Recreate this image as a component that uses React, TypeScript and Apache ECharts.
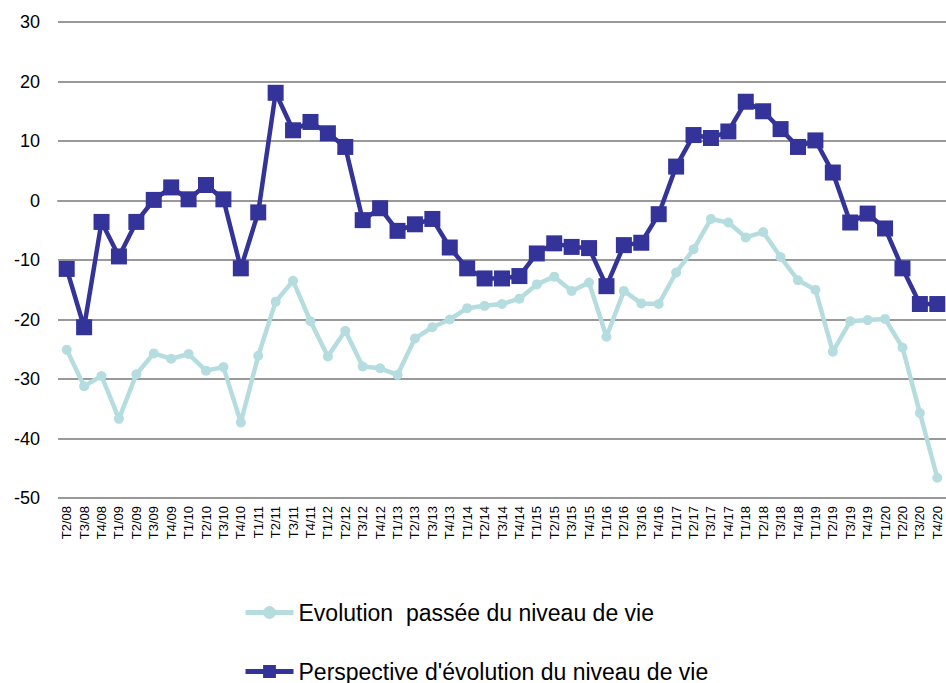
import React, { useEffect, useRef } from "react";
import * as echarts from "echarts";

const categories = [
  "T2/08", "T3/08", "T4/08",
  "T1/09", "T2/09", "T3/09", "T4/09",
  "T1/10", "T2/10", "T3/10", "T4/10",
  "T1/11", "T2/11", "T3/11", "T4/11",
  "T1/12", "T2/12", "T3/12", "T4/12",
  "T1/13", "T2/13", "T3/13", "T4/13",
  "T1/14", "T2/14", "T3/14", "T4/14",
  "T1/15", "T2/15", "T3/15", "T4/15",
  "T1/16", "T2/16", "T3/16", "T4/16",
  "T1/17", "T2/17", "T3/17", "T4/17",
  "T1/18", "T2/18", "T3/18", "T4/18",
  "T1/19", "T2/19", "T3/19", "T4/19",
  "T1/20", "T2/20", "T3/20", "T4/20",
];

const evolutionPassee = [
  -25.1, -31.2, -29.5,
  -36.7, -29.2, -25.7, -26.6,
  -25.8, -28.6, -28.0, -37.3,
  -26.1, -17.0, -13.5, -20.3,
  -26.2, -21.9, -27.9, -28.2,
  -29.3, -23.2, -21.3, -20.0,
  -18.1, -17.7, -17.4, -16.5,
  -14.1, -12.8, -15.2, -13.8,
  -22.9, -15.2, -17.3, -17.4,
  -12.1, -8.2, -3.1, -3.7,
  -6.2, -5.3, -9.5, -13.4,
  -15.0, -25.4, -20.3, -20.1,
  -19.9, -24.7, -35.7, -46.6,
];

const perspective = [
  -11.5, -21.3, -3.6,
  -9.4, -3.6, 0.1, 2.2,
  0.2, 2.6, 0.2, -11.4,
  -2.0, 18.1, 11.8, 13.2,
  11.3, 9.0, -3.3, -1.3,
  -5.1, -4.0, -3.1, -7.9,
  -11.4, -13.1, -13.1, -12.7,
  -8.9, -7.2, -7.8, -8.0,
  -14.4, -7.5, -7.1, -2.3,
  5.7, 11.0, 10.5, 11.6,
  16.6, 15.0, 12.0, 9.0,
  10.1, 4.7, -3.7, -2.2,
  -4.7, -11.4, -17.4, -17.4,
];

const seriesNames = [
  "Evolution  passée du niveau de vie",
  "Perspective d'évolution du niveau de vie",
];

const FONT = "'Liberation Sans', Arial, sans-serif";

const legendBase = {
  orient: "horizontal",
  left: 243,
  padding: 0,
  itemWidth: 48,
  itemHeight: 16,
  lineStyle: { width: 5 },
  textStyle: { fontSize: 23, color: "#000", fontFamily: FONT },
};

export default function App() {
  const ref = useRef<HTMLDivElement>(null);
  useEffect(() => {
    if (!ref.current) return;
    const chart = echarts.init(ref.current, undefined, { renderer: "svg" });
    chart.setOption({
      animation: false,
      backgroundColor: "#ffffff",
      textStyle: { fontFamily: FONT },
      grid: { left: 58, top: 22, width: 890, height: 476, containLabel: false },
      legend: [
        { ...legendBase, top: 601, data: [seriesNames[0]] },
        { ...legendBase, top: 660, data: [seriesNames[1]] },
      ],
      xAxis: {
        type: "category",
        data: categories,
        boundaryGap: true,
        axisLine: { show: true, lineStyle: { color: "#999", width: 2 } },
        axisTick: { show: false },
        axisLabel: {
          interval: 0,
          rotate: 90,
          fontSize: 13,
          color: "#000",
          margin: 8,
          fontFamily: FONT,
        },
        splitLine: { show: false },
      },
      yAxis: {
        type: "value",
        min: -50,
        max: 30,
        interval: 10,
        axisLine: { show: false },
        axisTick: { show: false },
        axisLabel: { fontSize: 18, color: "#000", margin: 18, fontFamily: FONT },
        splitLine: { show: true, lineStyle: { color: "#999", width: 2 } },
      },
      series: [
        {
          name: seriesNames[0],
          type: "line",
          data: evolutionPassee,
          symbol: "circle",
          symbolSize: 10,
          lineStyle: { color: "#b5dde0", width: 4.5 },
          itemStyle: { color: "#b5dde0" },
        },
        {
          name: seriesNames[1],
          type: "line",
          data: perspective,
          symbol: "rect",
          symbolSize: 16,
          lineStyle: { color: "#333399", width: 4.5 },
          itemStyle: { color: "#333399" },
        },
      ],
    });
    return () => chart.dispose();
  }, []);
  return (
    <div
      ref={ref}
      style={{ position: "absolute", left: 0, top: 0, width: 946, height: 683 }}
    />
  );
}
